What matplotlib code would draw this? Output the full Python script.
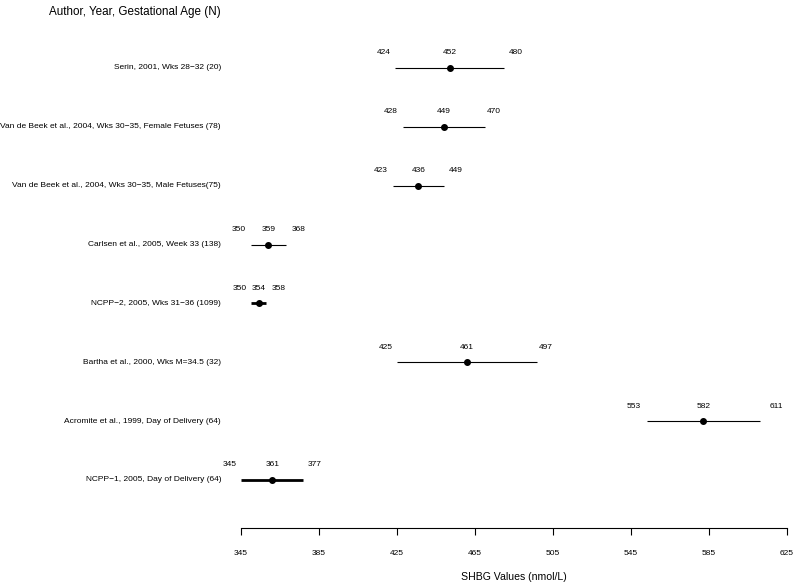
import matplotlib
matplotlib.use('Agg')
import matplotlib.pyplot as plt
import matplotlib.transforms as mtransforms

plt.rcParams['font.family'] = ['Liberation Sans', 'DejaVu Sans']

# data
studies = ['Serin, 2001, Wks 28\u221232 (20)',
           'Van de Beek et al., 2004, Wks 30\u221235, Female Fetuses (78)',
           'Van de Beek et al., 2004, Wks 30\u221235, Male Fetuses(75)',
           'Carlsen et al., 2005, Week 33 (138)',
           'NCPP\u22122, 2005, Wks 31\u221236 (1099)',
           'Bartha et al., 2000, Wks M=34.5 (32)',
           'Acromite et al., 1999, Day of Delivery (64)',
           'NCPP\u22121, 2005, Day of Delivery (64)']
estimate = [452, 449, 436, 359, 354, 461, 582, 361]
lower = [424, 428, 423, 350, 350, 425, 553, 345]
upper = [480, 470, 449, 368, 358, 497, 611, 377]
thick = [False, False, False, False, True, False, False, True]
xticks = [345, 385, 425, 465, 505, 545, 585, 625]

# pixel nudges of the value labels, as in the original layout
lo_shift = [-11, -12, -12, -12, -11, -11, -13, -11]
hi_shift = [12, 9, 12, 13, 12, 8, 17, 11]

W, H = 800, 588
fig = plt.figure(figsize=(W / 100, H / 100), dpi=100)
ax = fig.add_axes([241 / W, (H - 528) / H, (787 - 241) / W, 528 / H])

n = len(studies)
ypos = [-i for i in range(n)]
ax.set_xlim(345, 625)
ax.set_ylim(-7.816, 1.155)

for i, y in enumerate(ypos):
    ax.plot([lower[i], upper[i]], [y, y], color='black', lw=2.0 if thick[i] else 0.8,
            solid_capstyle='butt')
    ax.plot(estimate[i], y, 'o', color='black', ms=4)
    for v, dx in ((lower[i], lo_shift[i]), (estimate[i], 0), (upper[i], hi_shift[i])):
        tr = mtransforms.offset_copy(ax.transData, fig=fig, x=dx, y=15, units='dots')
        ax.text(v, y, str(v), ha='center', va='center', fontsize=6, transform=tr)

trans = mtransforms.blended_transform_factory(fig.transFigure, ax.transData)
for y, lab in zip(ypos, studies):
    ax.text(221 / W, y, lab, ha='right', va='center', fontsize=6, transform=trans)

for s in ['top', 'right', 'left']:
    ax.spines[s].set_visible(False)
ax.spines['bottom'].set_linewidth(0.8)
ax.set_yticks([])
ax.set_xticks(xticks)
ax.set_xticklabels([str(t) for t in xticks])
ax.tick_params(axis='x', direction='out', length=5, width=0.8, labelsize=6, pad=11)

fig.text(514 / W, 1 - 577 / H, 'SHBG Values (nmol/L)', ha='center', va='center', fontsize=7.6)
fig.text(49 / W, 1 - 12 / H, 'Author, Year, Gestational Age (N)', ha='left', va='center', fontsize=8.4)

fig.savefig('out.png', dpi=100)
